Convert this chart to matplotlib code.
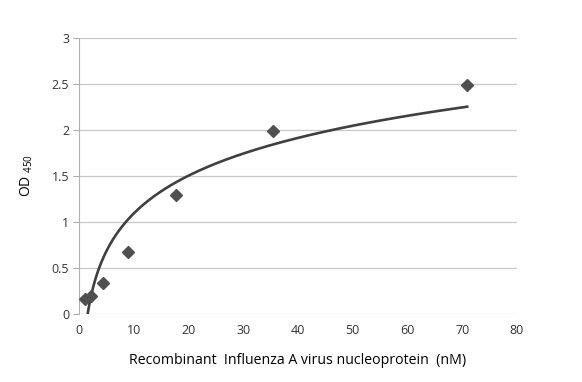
import numpy as np
import matplotlib
matplotlib.use("Agg")
import matplotlib.pyplot as plt

plt.rcParams['font.family'] = ['Open Sans', 'DejaVu Sans']

conc = [1.1, 2.2, 4.4, 8.9, 17.7, 35.4, 70.9]   # nM
od = [0.16, 0.20, 0.34, 0.67, 1.29, 1.99, 2.49]
xticks = [0, 10, 20, 30, 40, 50, 60, 70, 80]
yticks = [0, 0.5, 1, 1.5, 2, 2.5, 3]

# logarithmic trendline (Excel-style) fitted to the points
a, b = np.polyfit(np.log(conc), od, 1)
xf = np.linspace(min(conc), max(conc), 400)
yf = a*np.log(xf) + b

fig = plt.figure(figsize=(5.82, 3.82), dpi=100)
ax = fig.add_axes([79/582, 68/382, 438/582, 276/382])
ax.plot(xf, yf, color='#404040', lw=1.9, zorder=3)
ax.plot(conc, od, 'D', color='#505050', ms=6, zorder=4, clip_on=False)
ax.set_xlim(0, 80); ax.set_ylim(0, 3)
ax.set_xticks(xticks); ax.set_yticks(yticks)
ax.set_yticklabels([f"{v:g}" for v in yticks])
ax.grid(axis='y', color='#c8c8c8', lw=0.9)
ax.set_axisbelow(True)
for s in ['top', 'right', 'bottom']:
    ax.spines[s].set_visible(False)
ax.spines['left'].set_color('#b0b0b0')
ax.tick_params(axis='y', length=4, colors='#b0b0b0', labelcolor='#333333', labelsize=9, pad=3)
ax.tick_params(axis='x', length=0, labelsize=9, labelcolor='#333333', pad=7)
ax.set_xlabel("Recombinant  Influenza A virus nucleoprotein  (nM)", fontsize=10.2, labelpad=12)
ax.set_ylabel(r"OD $_{\mathregular{450}}$", fontsize=10, labelpad=12)
fig.savefig("out.png", dpi=100)
